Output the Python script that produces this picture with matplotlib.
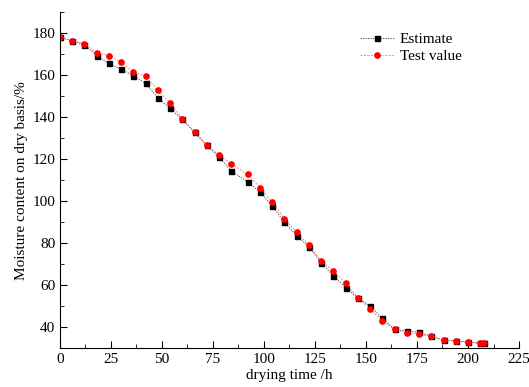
import matplotlib
matplotlib.use("Agg")
import matplotlib.pyplot as plt
from matplotlib.ticker import MultipleLocator

plt.rcParams["font.family"] = ["Liberation Serif", "DejaVu Serif"]

time_h = [0, 6, 12, 18, 24, 30, 36, 42, 48, 54, 60, 66, 72, 78, 84, 92, 98,
          104, 110, 116, 122, 128, 134, 140, 146, 152, 158, 164, 170, 176,
          182, 188, 194, 200, 206, 208]
estimate = [178.0, 176.3, 174.3, 169.3, 165.5, 162.7, 159.7, 156.0, 149.2,
            144.1, 138.9, 132.7, 126.5, 121.0, 114.3, 109.2, 104.3, 97.9,
            90.0, 83.5, 78.4, 70.6, 64.6, 58.9, 54.0, 50.1, 44.3, 39.0, 38.2,
            37.6, 35.7, 33.8, 33.5, 32.9, 32.4, 32.7]
test_value = [177.9, 176.3, 175.0, 170.5, 169.3, 166.0, 161.4, 159.5, 152.7,
              146.7, 139.2, 132.9, 126.8, 121.9, 117.8, 112.7, 106.5, 99.5,
              91.7, 85.2, 79.2, 71.6, 66.8, 61.0, 54.1, 48.7, 43.1, 39.0,
              37.3, 36.8, 35.7, 33.8, 33.5, 32.9, 32.4, 32.7]

fig = plt.figure(figsize=(5.29, 3.87), dpi=100)
ax = fig.add_axes([0.1134, 0.1, 0.8677, 0.869])

ax.plot(time_h, estimate, color="#333333", linestyle=(0, (1.5, 1.5)), linewidth=0.6,
        marker="s", markersize=3.6, markerfacecolor="black",
        markeredgecolor="black", label="Estimate")
ax.plot(time_h, test_value, color="#ff5555", linestyle=(0, (3, 2)), linewidth=0.5,
        marker="o", markersize=3.8, markerfacecolor="red",
        markeredgecolor="red", label="Test value")

ax.set_xlim(0, 225)
ax.set_ylim(30, 190)
ax.xaxis.set_major_locator(MultipleLocator(25))
ax.xaxis.set_minor_locator(MultipleLocator(12.5))
ax.set_yticks(range(40, 181, 20))
ax.yaxis.set_minor_locator(MultipleLocator(10))
ax.tick_params(which="both", direction="in", labelsize=11)
ax.tick_params(which="major", length=5)
ax.tick_params(which="minor", length=3)
ax.spines["top"].set_visible(False)
ax.spines["right"].set_visible(False)

ax.set_xlabel("drying time /h", fontsize=11, labelpad=2)
ax.set_ylabel("Moisture content on dry basis/%", fontsize=11, labelpad=3)

ax.legend(loc="upper right", bbox_to_anchor=(0.905, 0.98), frameon=False,
          fontsize=11, handlelength=2.2, handletextpad=0.4, labelspacing=0.2)

fig.savefig("out.png", dpi=100)
